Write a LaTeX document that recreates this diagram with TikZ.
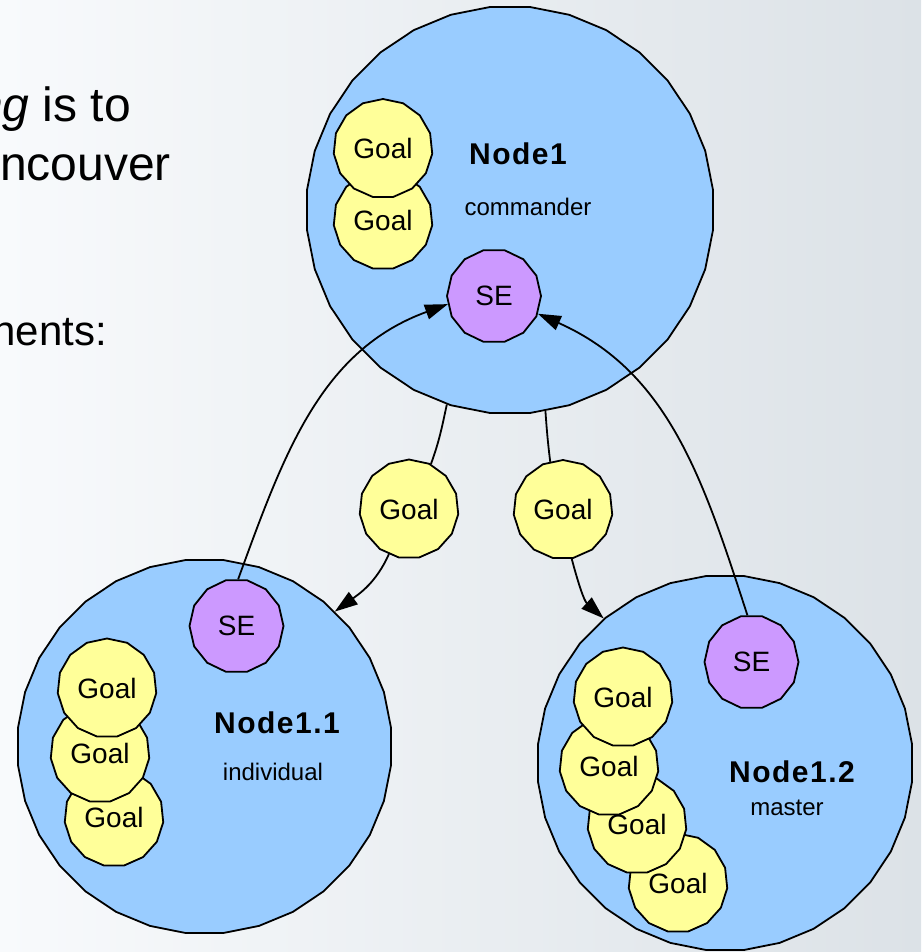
\documentclass[tikz,border=0pt]{standalone}
\usepackage{fontspec}
\setmainfont{Liberation Sans}
\usetikzlibrary{shapes.geometric,arrows.meta}

\definecolor{bgleft}{HTML}{F8FAFC}
\definecolor{bgmid}{HTML}{EFF2F5}
\definecolor{bgright}{HTML}{DCE2E7}
\definecolor{nodeblue}{HTML}{99CCFF}
\definecolor{goalyellow}{HTML}{FFFF99}
\definecolor{sepurple}{HTML}{CC99FF}

\tikzset{
  outline/.style={draw=black, line width=1.8pt, line join=round, inner sep=0pt},
  agent/.style={outline, regular polygon, regular polygon sides=32,
    fill=nodeblue, minimum size=#1},
  goal/.style={outline, regular polygon, regular polygon sides=15,
    fill=goalyellow, minimum size=99pt, font=\fontsize{28}{30}\selectfont},
  sebox/.style={outline, regular polygon, regular polygon sides=14,
    fill=sepurple, minimum size=94pt, font=\fontsize{28}{30}\selectfont},
  title/.style={inner sep=0pt,
    font=\fontsize{30}{32}\selectfont\bfseries\addfontfeatures{LetterSpace=5}},
  role/.style={inner sep=0pt, font=\fontsize{24}{26}\selectfont},
  slide/.style={inner sep=0pt, anchor=base east, font=\fontsize{48}{52}\selectfont},
  link/.style={line width=1.8pt},
  flow/.style={link, -{Triangle[length=23pt,width=15pt]}},
}

\begin{document}
\begin{tikzpicture}[x=1pt, y=-1pt]
  % page and backdrop
  \useasboundingbox (0,0) rectangle (921,952);
  \shade[left color=bgleft, middle color=bgmid, right color=bgright]
    (0,0) rectangle (921,952);

  % slide text at the left edge
  \node[slide] (t1) at (131,122) {\textit{ng} is to};
  \node[slide] (t2) at (171,180) {ncouver};
  \node[slide, font=\fontsize{42}{46}\selectfont] (t3) at (107,345) {nents:};

  % the three agent nodes
  \node[agent=408pt] (n1)  at (510,210) {};
  \node[agent=375pt] (n11) at (204.5,746.5) {};
  \node[agent=376pt] (n12) at (725,763) {};

  % Node1 contents
  \node[goal] (g1b) at (383,220) {Goal};
  \node[goal] (g1a) at (383,148.5) {Goal};
  \node[sebox] (se1) at (494,296) {SE};
  \node[title] (l1) at (518,154) {Node1};
  \node[role] (r1) at (528,207) {commander};

  % Node1.1 contents
  \node[goal] (g11c) at (114,817) {Goal};
  \node[goal] (g11b) at (100,753) {Goal};
  \node[goal] (g11a) at (107,688) {Goal};
  \node[sebox] (se11) at (236.5,626) {SE};
  \node[title] (l11) at (277,723) {Node1.1};
  \node[role] (r11) at (273,772) {individual};

  % Node1.2 contents
  \node[goal] (g12d) at (678,883) {Goal};
  \node[goal] (g12c) at (637,824) {Goal};
  \node[goal] (g12b) at (609,766) {Goal};
  \node[goal] (g12a) at (623,697) {Goal};
  \node[sebox] (se12) at (751.5,662) {SE};
  \node[title] (l12) at (792,772) {Node1.2};
  \node[role] (r12) at (787,808) {master};

  % goals handed down from Node1
  \node[goal] (gl) at (409,509) {Goal};
  \node[goal] (gr) at (563,509.5) {Goal};

  % delegation
  \draw[link] (n1.252) to[out=-102, in=70] (gl.64);
  \draw[flow] (gl.246) to[out=-114, in=36] (n11.46);
  \draw[link] (n1.280) to[out=-86, in=97] (gr.105);
  \draw[flow] (gr.-80) to[out=-75, in=138] (n12.130);

  % feedback to the commander's SE
  \draw[flow] (se11.88) to[out=70, in=200] (se1.190);
  \draw[flow] (se12.95) to[out=108, in=-24] (se1.-22);
\end{tikzpicture}
\end{document}
